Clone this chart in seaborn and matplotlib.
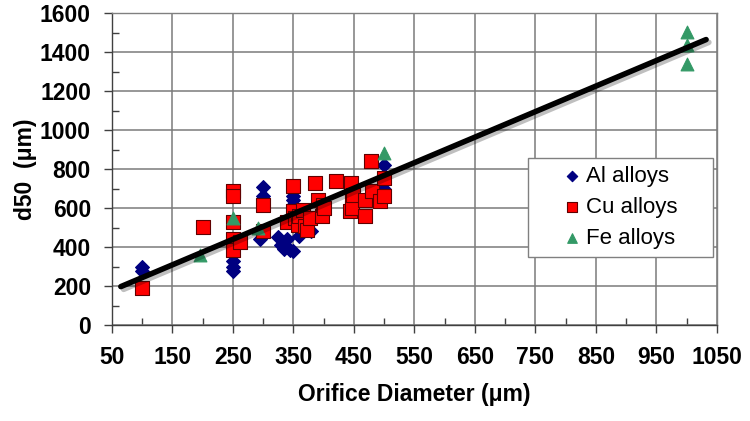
import numpy as np
import pandas as pd
import seaborn as sns
import matplotlib.pyplot as plt
import matplotlib.patheffects as pe
from matplotlib.patches import Rectangle
from matplotlib.ticker import MultipleLocator, FixedLocator

# 数据
al_x = [100, 100, 250, 250, 250, 300, 300, 295, 325, 330, 335, 340, 345, 350,
        350, 350, 350, 360, 375, 380, 500, 500, 500]
al_y = [300, 275, 330, 300, 275, 710, 660, 440, 450, 410, 390, 440, 385, 380,
        640, 615, 660, 455, 490, 480, 820, 700, 740]

cu_x = [100, 200, 250, 250, 250, 250, 250, 262, 300, 300, 340, 350, 350, 352,
        357, 360, 366, 370, 372, 377, 385, 390, 397, 399, 400, 420, 445, 447,
        444, 447, 449, 469, 469, 478, 480, 494, 500, 500]
cu_y = [190, 505, 685, 660, 530, 440, 385, 428, 614, 480, 530, 712, 583, 547,
        511, 560, 590, 506, 487, 547, 728, 642, 557, 616, 598, 740, 728, 650,
        583, 598, 668, 642, 557, 843, 686, 635, 660, 753]

fe_x = [195, 250, 292, 500, 1000, 1000, 1000]
fe_y = [360, 547, 500, 883, 1505, 1435, 1340]

# 拟合直线
fit_x = [65, 1032]
fit_y = [197, 1464]

groups = ["Al alloys", "Cu alloys", "Fe alloys"]
df = pd.concat([
    pd.DataFrame({"d": al_x, "d50": al_y, "alloy": groups[0]}),
    pd.DataFrame({"d": cu_x, "d50": cu_y, "alloy": groups[1]}),
    pd.DataFrame({"d": fe_x, "d50": fe_y, "alloy": groups[2]}),
], ignore_index=True)

sns.set_style("ticks")
plt.rcParams['font.family'] = ['Liberation Sans', 'DejaVu Sans']
plt.rcParams['text.color'] = 'black'
plt.rcParams['axes.labelcolor'] = 'black'
plt.rcParams['xtick.labelcolor'] = 'black'
plt.rcParams['ytick.labelcolor'] = 'black'

fig = plt.figure(figsize=(7.5, 4.21), dpi=100)
ax = fig.add_axes([0.149, 0.228, 0.807, 0.741])

palette = {"Al alloys": "#000080", "Cu alloys": "#ff0000", "Fe alloys": "#339966"}
markers = {"Al alloys": "D", "Cu alloys": "s", "Fe alloys": "^"}
sizes = {"Al alloys": 50, "Cu alloys": 90, "Fe alloys": 85}

for g in groups:
    sub = df[df["alloy"] == g]
    sns.scatterplot(data=sub, x="d", y="d50", color=palette[g], marker=markers[g],
                    s=sizes[g], edgecolor="#600000" if g == "Cu alloys" else palette[g],
                    linewidth=0.8, label=g, ax=ax, zorder=3)

sns.lineplot(x=fit_x, y=fit_y, color="black", linewidth=4, ax=ax, zorder=4,
             path_effects=[pe.SimpleLineShadow(offset=(2, -2), alpha=0.25), pe.Normal()])

ax.set_xlim(50, 1050)
ax.set_ylim(0, 1600)
ax.xaxis.set_major_locator(FixedLocator(np.arange(50, 1051, 100)))
ax.xaxis.set_minor_locator(FixedLocator(np.arange(100, 1001, 100)))
ax.yaxis.set_major_locator(MultipleLocator(200))
ax.yaxis.set_minor_locator(FixedLocator(np.arange(100, 1600, 200)))

ax.grid(True, which="major", color="#7a7a7a", linewidth=1.1)
ax.set_axisbelow(True)
for s in ax.spines.values():
    s.set_color("#808080")
    s.set_linewidth(1)
ax.spines["left"].set_color("#404040")
ax.spines["bottom"].set_color("#404040")

ax.tick_params(which="major", direction="out", length=6, width=1, color="#404040",
               labelsize=16.5, pad=9, labelcolor="black")
ax.tick_params(which="minor", direction="in", length=5, width=1, color="#404040")
for lab in ax.get_xticklabels() + ax.get_yticklabels():
    lab.set_fontweight("bold")

ax.set_xlabel("Orifice Diameter (\u03bcm)", fontsize=16.5, fontweight="bold", labelpad=10)
ax.set_ylabel("d50  (\u03bcm)", fontsize=16.5, fontweight="bold", labelpad=2)

# 图例边框（Excel 风格，比内容宽）
ax.add_patch(Rectangle((0.688, 0.218), 0.305, 0.317, transform=ax.transAxes,
                       facecolor="white", edgecolor="#808080", linewidth=1, zorder=5))

handles, labels = ax.get_legend_handles_labels()
handles = [h for h, l in zip(handles, labels) if l in groups]
labels = [l for l in labels if l in groups]
leg = ax.legend(handles, labels, loc="center", bbox_to_anchor=(0.838, 0.376),
                fontsize=16, frameon=False, handletextpad=0.15, borderpad=0,
                labelspacing=0.45, handlelength=1.0, markerscale=0.75)
leg.set_zorder(6)

fig.savefig("out.png", dpi=100)
